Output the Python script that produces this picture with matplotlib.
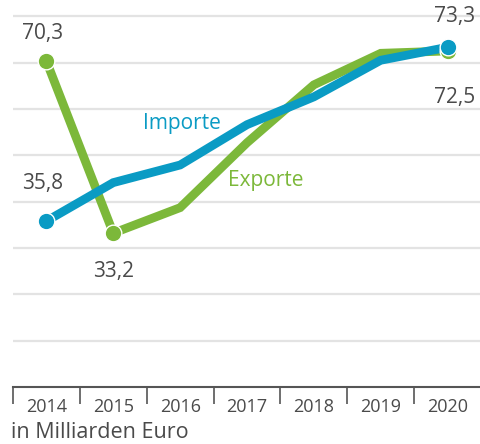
import numpy as np
import matplotlib.pyplot as plt

years = ['2014', '2015', '2016', '2017', '2018', '2019', '2020']
importe = [35.8, 44.1, 47.9, 56.6, 62.6, 70.5, 73.3]
exporte = [70.3, 33.2, 38.7, 52.7, 65.2, 72.0, 72.5]
grid_vals = [10, 20, 30, 40, 50, 60, 70, 80]

blue = '#0a9bc4'
green = '#7cb83a'
grey = '#4a4a4a'

plt.rcParams['font.family'] = ['Open Sans', 'DejaVu Sans']

fig = plt.figure(figsize=(4.81, 4.44), dpi=100)
ax = fig.add_axes([13/481, 57/444, 468/481, 387/444])
x = np.arange(len(years))

for g in grid_vals:
    ax.axhline(g, color='#e3e3e3', lw=1.6, zorder=0)

ax.plot(x, exporte, color=green, lw=6.3, solid_joinstyle='miter', zorder=2)
ax.plot(x, importe, color=blue, lw=6.3, solid_joinstyle='miter', zorder=3)

# markers
ax.plot(x[[0, 1, 6]], [exporte[0], exporte[1], exporte[6]], 'o', color=green,
        ms=12, mec='white', mew=1, zorder=4)
ax.plot(x[[0, 6]], [importe[0], importe[6]], 'o', color=blue,
        ms=12, mec='white', mew=1, zorder=5)

def fmt(v):
    return ('%.1f' % v).replace('.', ',')

ax.text(x[0] - 0.06, exporte[0] + 6, fmt(exporte[0]), ha='center', va='center',
        fontsize=15, color=grey)
ax.text(x[0] - 0.06, importe[0] + 8.2, fmt(importe[0]), ha='center', va='center',
        fontsize=15, color=grey)
ax.text(x[1], exporte[1] - 8.2, fmt(exporte[1]), ha='center', va='center',
        fontsize=15, color=grey)
ax.text(x[6] + 0.1, importe[6] + 6.7, fmt(importe[6]), ha='center', va='center',
        fontsize=15, color=grey)
ax.text(x[6] + 0.1, exporte[6] - 10, fmt(exporte[6]), ha='center', va='center',
        fontsize=15, color=grey)

ax.text(1.45, 56.8, 'Importe', ha='left', va='center', fontsize=15, color=blue)
ax.text(2.72, 44.5, 'Exporte', ha='left', va='center', fontsize=15, color=green)

ax.set_xlim(-0.5, 6.5)
ax.set_ylim(0, 83.5)
ax.set_yticks([])
for s in ['top', 'right', 'left']:
    ax.spines[s].set_visible(False)
ax.spines['bottom'].set_color('#555555')
ax.spines['bottom'].set_linewidth(1.5)

ax.set_xticks(x)
ax.set_xticklabels(years, fontsize=13, color=grey)
ax.tick_params(axis='x', which='major', length=0, pad=8)
ax.set_xticks(np.arange(-0.5, 7, 1), minor=True)
ax.tick_params(axis='x', which='minor', length=12, width=1.2, color='#555555')

fig.text(11/481, 1 - 432/444, 'in Milliarden Euro', ha='left', va='center',
         fontsize=15.5, color=grey)

fig.savefig('out.png', dpi=100)
